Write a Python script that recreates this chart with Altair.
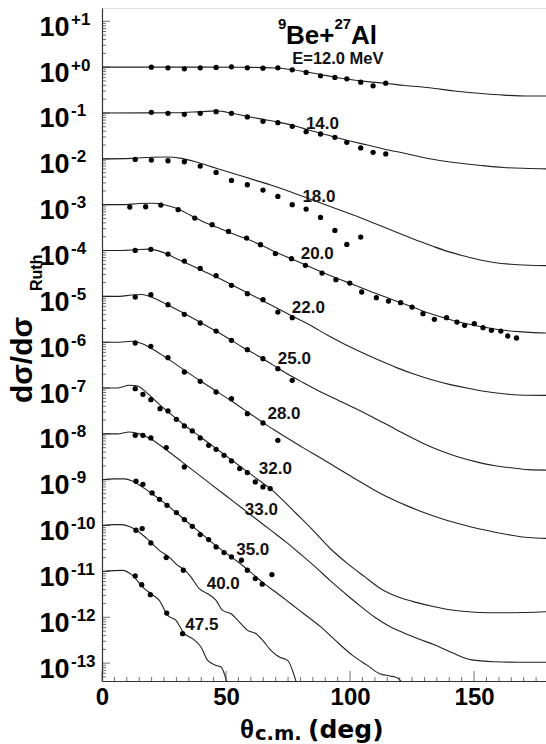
import altair as alt
import pandas as pd

# Beam energies (MeV) and the decade each angular distribution is shifted by
energies = ["12.0", "14.0", "18.0", "20.0", "22.0", "25.0", "28.0", "32.0", "33.0", "35.0", "40.0", "47.5"]
shift_exp = [0, -1, -2, -3, -4, -5, -6, -7, -8, -9, -10, -11]

# Optical-model fits: theta_cm (deg) and log10(sigma/sigma_Ruth), unshifted
fit_12_theta = [0, 40, 60, 70, 76, 82, 88, 94, 100, 106, 114, 122, 132, 142, 152, 162, 172, 179]
fit_12_logr = [0, 0, -0.005, -0.02, -0.05, -0.1, -0.16, -0.22, -0.27, -0.31, -0.35, -0.40, -0.45, -0.52, -0.57, -0.61, -0.63, -0.63]
fit_14_theta = [0, 30, 40, 46, 52, 58, 65, 71, 77, 82, 88, 94, 100, 107, 114, 122, 132, 142, 152, 162, 172, 179]
fit_14_logr = [0, 0.005, 0.03, 0.045, 0.0, -0.07, -0.14, -0.2, -0.27, -0.35, -0.44, -0.53, -0.61, -0.7, -0.79, -0.88, -1.0, -1.08, -1.14, -1.19, -1.21, -1.22]
fit_18_theta = [0, 12, 20, 26, 32, 38, 44, 50, 56, 62, 68, 74, 80, 86, 92, 98, 104, 110, 116, 122, 128, 134, 140, 146, 152, 158, 165, 172, 179]
fit_18_logr = [0, 0.01, 0.035, 0.04, 0.01, -0.07, -0.17, -0.27, -0.37, -0.47, -0.57, -0.68, -0.8, -0.92, -1.04, -1.16, -1.28, -1.41, -1.54, -1.67, -1.8, -1.92, -2.03, -2.12, -2.2, -2.26, -2.3, -2.32, -2.33]
fit_20_theta = [0, 8, 15, 20, 25, 30, 36, 42, 48, 54, 60, 66, 72, 78, 84, 90, 96, 102, 108, 114, 120, 126, 132, 138, 144, 150, 156, 162, 168, 174, 179]
fit_20_logr = [0, 0, 0.025, 0.03, 0.0, -0.08, -0.24, -0.4, -0.53, -0.66, -0.78, -0.93, -1.08, -1.22, -1.36, -1.5, -1.63, -1.76, -1.89, -2.01, -2.13, -2.25, -2.37, -2.47, -2.56, -2.63, -2.69, -2.74, -2.77, -2.79, -2.8]
fit_22_theta = [0, 8, 14, 19, 24, 29, 35, 41, 47, 53, 59, 65, 71, 77, 84, 91, 98, 105, 112, 119, 126, 133, 140, 147, 154, 161, 168, 179]
fit_22_logr = [0, 0, 0.02, 0.03, -0.03, -0.15, -0.3, -0.45, -0.6, -0.77, -0.93, -1.1, -1.27, -1.44, -1.63, -1.85, -2.05, -2.23, -2.4, -2.56, -2.7, -2.82, -2.92, -3.0, -3.07, -3.12, -3.15, -3.16]
fit_25_theta = [0, 7, 12, 16, 21, 27, 33, 39, 45, 51, 57, 63, 69, 75, 81, 88, 95, 102, 109, 116, 123, 130, 137, 144, 151, 158, 165, 172, 179]
fit_25_logr = [0, 0, 0.03, 0.04, -0.04, -0.2, -0.37, -0.55, -0.73, -0.92, -1.12, -1.3, -1.5, -1.7, -1.88, -2.08, -2.26, -2.44, -2.63, -2.83, -3.03, -3.22, -3.38, -3.51, -3.61, -3.69, -3.74, -3.78, -3.79]
fit_28_theta = [0, 7, 12, 16, 21, 27, 33, 39, 45, 51, 57, 63, 69, 75, 81, 88, 95, 102, 109, 116, 123, 130, 137, 144, 151, 158, 165, 172, 179]
fit_28_logr = [0, 0, 0.02, -0.03, -0.17, -0.38, -0.6, -0.82, -1.03, -1.24, -1.46, -1.68, -1.9, -2.1, -2.3, -2.52, -2.75, -2.98, -3.2, -3.4, -3.57, -3.72, -3.85, -3.96, -4.06, -4.14, -4.21, -4.26, -4.28]
fit_32_theta = [0, 6, 11, 14, 18, 23, 28, 33, 38, 43, 48, 53, 58, 63, 68, 73, 78, 85, 92, 99, 106, 113, 120, 127, 134, 141, 148, 156, 165, 179]
fit_32_logr = [0, 0, 0.06, 0.05, -0.1, -0.35, -0.58, -0.8, -1.0, -1.2, -1.4, -1.6, -1.8, -2.0, -2.2, -2.45, -2.72, -3.1, -3.5, -3.83, -4.12, -4.4, -4.57, -4.68, -4.77, -4.84, -4.88, -4.9, -4.9, -4.88]
fit_33_theta = [0, 6, 11, 15, 20, 26, 32, 38, 44, 50, 56, 62, 68, 74, 80, 86, 92, 98, 104, 110, 116, 122, 128, 134, 141, 149, 158, 168, 179]
fit_33_logr = [0, 0, 0.04, 0.0, -0.12, -0.35, -0.6, -0.85, -1.1, -1.35, -1.6, -1.85, -2.1, -2.35, -2.62, -2.9, -3.2, -3.48, -3.75, -4.0, -4.2, -4.35, -4.48, -4.6, -4.77, -4.93, -4.97, -4.98, -4.98]
fit_35_theta = [0, 5, 9, 12, 16, 20, 25, 30, 35, 40, 45, 50, 55, 60, 65, 70, 76, 82, 88, 94, 101, 107, 112, 116, 119, 122]
fit_35_logr = [0, 0.02, 0.02, -0.02, -0.15, -0.3, -0.5, -0.72, -0.95, -1.17, -1.4, -1.6, -1.8, -2.02, -2.25, -2.45, -2.7, -2.95, -3.2, -3.5, -3.83, -4.05, -4.23, -4.28, -4.32, -4.5]
fit_40_theta = [0, 5, 8, 11, 14, 18, 23.1, 27.1, 30.5, 33.2, 35.9, 39.2, 42.6, 46, 48.6, 52, 55.4, 58.7, 62.1, 64.8, 68.1, 71.5, 74.8, 78.5]
fit_40_logr = [0, 0.02, 0.02, -0.02, -0.1, -0.28, -0.541, -0.687, -0.868, -0.962, -1.123, -1.377, -1.486, -1.631, -1.849, -1.922, -2.104, -2.286, -2.358, -2.504, -2.722, -2.868, -2.94, -3.45]
fit_47_theta = [0, 8.3, 12.3, 16.4, 19.7, 23.1, 26.5, 29.8, 33.2, 36.5, 39.9, 42.6, 46, 48, 50.5]
fit_47_logr = [0, 0.023, -0.086, -0.341, -0.486, -0.631, -0.958, -1.068, -1.358, -1.467, -1.65, -1.94, -2.05, -2.086, -2.45]

# Measured elastic scattering: theta_cm (deg) and log10(sigma/sigma_Ruth), unshifted
exp_12_theta = [19.9, 26.6, 33.2, 39.6, 46.0, 52.2, 58.6, 64.9, 70.9, 76.7, 82.3, 88.1, 93.9, 98.7, 104.3, 109.3, 114.4]
exp_12_logr = [0.0, -0.015, -0.036, -0.015, -0.007, 0.007, -0.015, -0.022, -0.015, -0.058, -0.116, -0.189, -0.225, -0.254, -0.327, -0.407, -0.349]
exp_14_theta = [19.9, 26.6, 33.2, 39.6, 46.0, 52.2, 58.6, 64.9, 70.9, 76.7, 82.3, 88.1, 93.9, 98.7, 104.3, 109.3, 114.4]
exp_14_logr = [0.015, -0.007, -0.029, -0.007, 0.029, -0.007, -0.087, -0.182, -0.211, -0.291, -0.407, -0.458, -0.530, -0.640, -0.763, -0.858, -0.894]
exp_18_theta = [13.4, 19.9, 26.6, 33.2, 39.6, 46.0, 52.2, 58.6, 64.9, 70.9, 76.7, 82.3, 88.1, 93.9, 98.7, 104.3]
exp_18_logr = [-0.013, -0.028, -0.042, -0.064, -0.158, -0.297, -0.471, -0.565, -0.682, -0.820, -1.001, -1.096, -1.278, -1.561, -1.866, -1.706]
exp_20_theta = [11.2, 17.6, 23.7, 30.7, 37.4, 44.4, 51.0, 58.3, 63.9, 69.9, 76.4, 82.0, 88.7, 94.3, 99.9, 104.7, 110.6, 115.5, 120.4, 125.0, 129.4, 134.0, 138.9, 143.1, 146.2, 150.1, 153.6, 157.0, 160.8, 163.6, 167.1]
exp_20_logr = [-0.052, -0.045, -0.009, -0.110, -0.292, -0.437, -0.583, -0.728, -0.873, -1.070, -1.179, -1.324, -1.491, -1.637, -1.709, -1.905, -2.029, -2.102, -2.138, -2.233, -2.378, -2.501, -2.465, -2.560, -2.632, -2.596, -2.683, -2.741, -2.756, -2.865, -2.908]
exp_22_theta = [13.4, 19.7, 26.6, 33.2, 39.6, 46.0, 52.2, 58.6, 64.9, 70.9, 76.7]
exp_22_logr = [0.003, 0.025, -0.077, -0.230, -0.390, -0.549, -0.760, -0.942, -1.073, -1.342, -1.465]
exp_25_theta = [13.4, 19.7, 26.6, 33.2, 39.6, 46.0, 52.2, 58.6, 64.9, 70.9, 76.7]
exp_25_logr = [-0.015, 0.036, -0.182, -0.392, -0.581, -0.756, -0.959, -1.163, -1.359, -1.577, -1.831]
exp_28_theta = [13.4, 19.7, 26.6, 33.2, 39.6, 46.0, 52.2, 58.6, 64.9, 70.9]
exp_28_logr = [-0.017, -0.090, -0.337, -0.650, -0.853, -1.086, -1.231, -1.558, -1.762, -2.140]
exp_32_theta = [13.4, 16.5, 19.7, 23.4, 26.6, 30.0, 33.2, 36.4, 39.6, 43.0, 46.0, 49.2, 52.2, 55.5, 58.6, 61.8, 64.9, 67.8]
exp_32_logr = [-0.013, -0.137, -0.253, -0.449, -0.500, -0.682, -0.827, -0.936, -1.089, -1.249, -1.336, -1.467, -1.590, -1.757, -1.844, -2.048, -2.157, -2.193]
exp_33_theta = [13.4, 16.5, 19.7, 25.9, 33.2]
exp_33_logr = [-0.031, -0.031, -0.089, -0.299, -0.721]
exp_35_theta = [13.7, 16.5, 20.2, 23.2, 26.2, 30.0, 33.2, 36.4, 39.6, 43.0, 46.0, 49.2, 52.2, 56.2, 58.6, 61.8, 64.6, 68.5]
exp_35_logr = [-0.033, -0.099, -0.288, -0.426, -0.557, -0.717, -0.869, -1.015, -1.196, -1.305, -1.465, -1.589, -1.683, -1.756, -1.974, -2.155, -2.279, -2.068]
exp_40_theta = [13.7, 16.2, 19.7, 25.9, 32.8]
exp_40_logr = [-0.102, -0.065, -0.378, -0.698, -0.974]
exp_47_theta = [13.4, 16.0, 19.5, 26.1, 32.5]
exp_47_logr = [-0.10, -0.29, -0.507, -0.908, -1.358]

# Energy tags beside each distribution: left edge (deg) and baseline (log10 of plotted value)
tag_text = ["E=12.0 MeV", "14.0", "18.0", "20.0", "22.0", "25.0", "28.0", "32.0", "33.0", "35.0", "40.0", "47.5"]
tag_theta = [76.7, 82.2, 80.8, 80.1, 76.5, 70.9, 66.7, 63.2, 57.6, 54.1, 42.2, 33.6]
tag_logy = [0.074, -1.344, -2.943, -4.179, -5.363, -6.468, -7.667, -8.866, -9.775, -10.647, -11.373, -12.286]
tag_size = [16.5, 17, 17, 17, 17, 17, 17, 17, 17, 17, 17, 17]

# Decade exponents written beside the "10" tick labels
exp_decades = list(range(1, -14, -1))
exp_text = ["+1", "+0"] + [f"-{abs(d)}" for d in range(-1, -14, -1)]

fits = [(fit_12_theta, fit_12_logr), (fit_14_theta, fit_14_logr), (fit_18_theta, fit_18_logr),
        (fit_20_theta, fit_20_logr), (fit_22_theta, fit_22_logr), (fit_25_theta, fit_25_logr),
        (fit_28_theta, fit_28_logr), (fit_32_theta, fit_32_logr), (fit_33_theta, fit_33_logr),
        (fit_35_theta, fit_35_logr), (fit_40_theta, fit_40_logr), (fit_47_theta, fit_47_logr)]
meas = [(exp_12_theta, exp_12_logr), (exp_14_theta, exp_14_logr), (exp_18_theta, exp_18_logr),
        (exp_20_theta, exp_20_logr), (exp_22_theta, exp_22_logr), (exp_25_theta, exp_25_logr),
        (exp_28_theta, exp_28_logr), (exp_32_theta, exp_32_logr), (exp_33_theta, exp_33_logr),
        (exp_35_theta, exp_35_logr), (exp_40_theta, exp_40_logr), (exp_47_theta, exp_47_logr)]

fit_rows, exp_rows = [], []
for e, k, (th, lr) in zip(energies, shift_exp, fits):
    fit_rows += [{"energy": e, "theta": t, "y": 10 ** (l + k)} for t, l in zip(th, lr)]
for e, k, (th, lr) in zip(energies, shift_exp, meas):
    exp_rows += [{"energy": e, "theta": t, "y": 10 ** (l + k)} for t, l in zip(th, lr)]
fit_df = pd.DataFrame(fit_rows)
exp_df = pd.DataFrame(exp_rows)
tag_df = pd.DataFrame({"text": tag_text, "theta": tag_theta, "y": [10 ** v for v in tag_logy], "size": tag_size})
sup_df = pd.DataFrame({"text": exp_text, "y": [10.0 ** d for d in exp_decades]})

Y_LO, Y_HI = 10 ** -13.39, 10 ** 1.29
X_MAX = 179
W, H = 444, 673
SANS = "Liberation Sans"
WIDE = "DejaVu Sans"
TICK = "#333"

# tick positions: decades and 2..9 sub-decades on y, every 5 deg on x
y_major = [10.0 ** e for e in range(-13, 2)]
y_minor = [m * 10.0 ** e for e in range(-14, 2) for m in range(2, 10) if Y_LO <= m * 10.0 ** e <= Y_HI]
x_major = [0, 50, 100, 150]
x_minor = [v for v in range(5, 180, 5) if v % 50]

x_scale = alt.Scale(domain=[0, X_MAX], nice=False, zero=False)
y_scale = alt.Scale(type="log", domain=[Y_LO, Y_HI], nice=False)

x_axis = alt.Axis(
    values=x_major, title=None, format="d",
    labelFont=SANS, labelFontWeight="bold", labelFontSize=24, labelColor="black",
    labelPadding=4, labelFlush=False, labelOverlap=False,
    ticks=False, tickSize=0, grid=False, domainColor=TICK, domainWidth=1.2,
)
y_axis = alt.Axis(
    values=y_major, title=None, labelExpr="'10'",
    labelFont=SANS, labelFontWeight="bold", labelFontSize=27, labelColor="black",
    labelAlign="left", labelBaseline="alphabetic", labelOffset=14, labelPadding=63,
    labelFlush=False, labelOverlap=False,
    ticks=False, tickSize=0, grid=False, domainColor=TICK, domainWidth=1.2,
)

lines = alt.Chart(fit_df).mark_line(color="#222", strokeWidth=1.1, clip=True, interpolate="monotone").encode(
    x=alt.X("theta:Q", scale=x_scale, axis=x_axis),
    y=alt.Y("y:Q", scale=y_scale, axis=y_axis),
    detail="energy:N",
)
points = alt.Chart(exp_df).mark_circle(color="black", opacity=1, size=28, clip=True).encode(
    x=alt.X("theta:Q", scale=x_scale),
    y=alt.Y("y:Q", scale=y_scale),
)
tags = alt.Chart(tag_df).mark_text(
    font=SANS, fontWeight="bold", align="left", baseline="alphabetic", color="#111"
).encode(
    x=alt.X("theta:Q", scale=x_scale), y=alt.Y("y:Q", scale=y_scale), text="text:N",
    size=alt.Size("size:Q", scale=None, legend=None),
)
sups = alt.Chart(sup_df).mark_text(
    font=SANS, fontWeight="bold", fontSize=17, align="left", baseline="alphabetic", dy=3.5, color="black"
).encode(x=alt.value(-31), y=alt.Y("y:Q", scale=y_scale), text="text:N")

# inward-pointing tick marks along the left and bottom frame
y_tick_major = alt.Chart(pd.DataFrame({"y": y_major})).mark_tick(
    orient="horizontal", size=8, thickness=1, color=TICK).encode(x=alt.value(4), y=alt.Y("y:Q", scale=y_scale))
y_tick_minor = alt.Chart(pd.DataFrame({"y": y_minor})).mark_tick(
    orient="horizontal", size=4, thickness=1, color=TICK).encode(x=alt.value(2), y=alt.Y("y:Q", scale=y_scale))
x_tick_major = alt.Chart(pd.DataFrame({"x": x_major})).mark_tick(
    orient="vertical", size=10, thickness=1, color=TICK).encode(x=alt.X("x:Q", scale=x_scale), y=alt.value(H - 5))
x_tick_minor = alt.Chart(pd.DataFrame({"x": x_minor})).mark_tick(
    orient="vertical", size=4, thickness=1, color=TICK).encode(x=alt.X("x:Q", scale=x_scale), y=alt.value(H - 2))


def label(txt, x, y, size, angle=0, font=SANS):
    return alt.Chart(pd.DataFrame({"t": [txt]})).mark_text(
        font=font, fontWeight="bold", fontSize=size, align="left", baseline="alphabetic",
        angle=angle, color="black"
    ).encode(x=alt.value(x), y=alt.value(y), text="t:N")


# reaction title with mass-number superscripts
title_parts = [
    label("9", 176, 21, 15), label("Be+", 184, 35.5, 26),
    label("27", 232.5, 21, 15), label("Al", 249, 35.5, 26),
]
# axis titles with subscripts (the y title reads bottom to top)
axis_titles = [
    label("θ", 138, 730, 26), label("c.m.", 153, 732, 19.5, font=WIDE), label("(deg)", 206, 730, 25, font=WIDE),
    label("dσ/dσ", -70, 395, 30, angle=270), label("Ruth", -60, 283, 16, angle=270),
]

chart = alt.layer(
    y_tick_minor, y_tick_major, x_tick_minor, x_tick_major,
    lines, points, tags, sups, *title_parts, *axis_titles,
).properties(
    width=W, height=H,
    autosize=alt.AutoSizeParams(type="none"),
    padding={"left": 102, "top": 8, "right": 0, "bottom": 63},
).configure_view(stroke="#888", strokeWidth=1.2).configure(background="white")

chart.save("out.html", embed_options={"renderer": "svg", "actions": False})
